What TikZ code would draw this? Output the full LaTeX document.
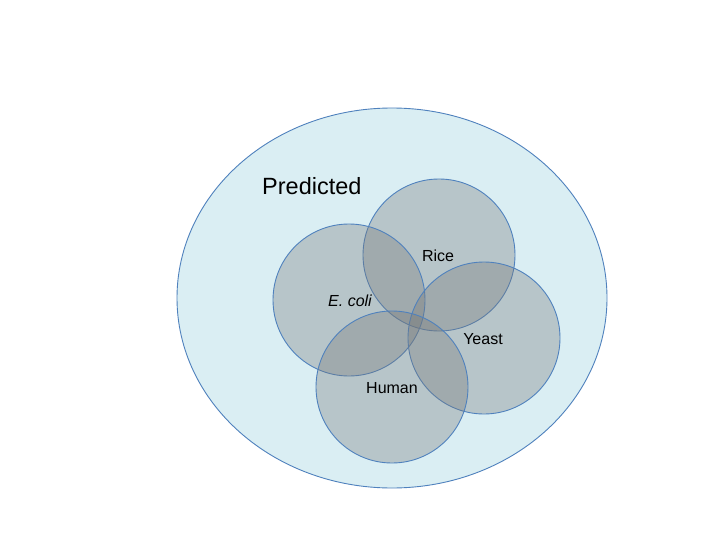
\documentclass[tikz,border=0pt]{standalone}
\usepackage{fontspec}
\setmainfont{Liberation Sans}
\definecolor{bgblue}{RGB}{218,238,243}
\definecolor{edgeblue}{RGB}{79,129,189}
\definecolor{setgray}{RGB}{118,120,120}
\begin{document}
\begin{tikzpicture}[x=1pt,y=-1pt,
  outer/.style={draw=edgeblue,line width=0.9pt,fill=bgblue},
  setc/.style={circle,draw=edgeblue,line width=0.9pt,fill=setgray,fill opacity=0.34,minimum size=152pt,inner sep=0pt},
  lab/.style={font=\fontsize{16}{19}\selectfont,text=black,inner sep=0pt}]
\useasboundingbox (0,0) rectangle (720,540);
\fill[white] (0,0) rectangle (720,540);
\draw[outer] (392,298) ellipse [x radius=215, y radius=190];
\node[lab,font=\fontsize{23.5}{28}\selectfont,anchor=west] (pred) at (262,186.5) {Predicted};
\node[setc] (rice) at (439,255) {};
\node[setc] (ecoli) at (349,300) {};
\node[setc] (yeast) at (484,338) {};
\node[setc] (human) at (392,387) {};
\node[lab] (ricel) at (438,256) {Rice};
\node[lab] (ecolil) at (350,301) {\itshape E. coli};
\node[lab] (yeastl) at (483,339) {Yeast};
\node[lab] (humanl) at (392,388) {Human};
\end{tikzpicture}
\end{document}
